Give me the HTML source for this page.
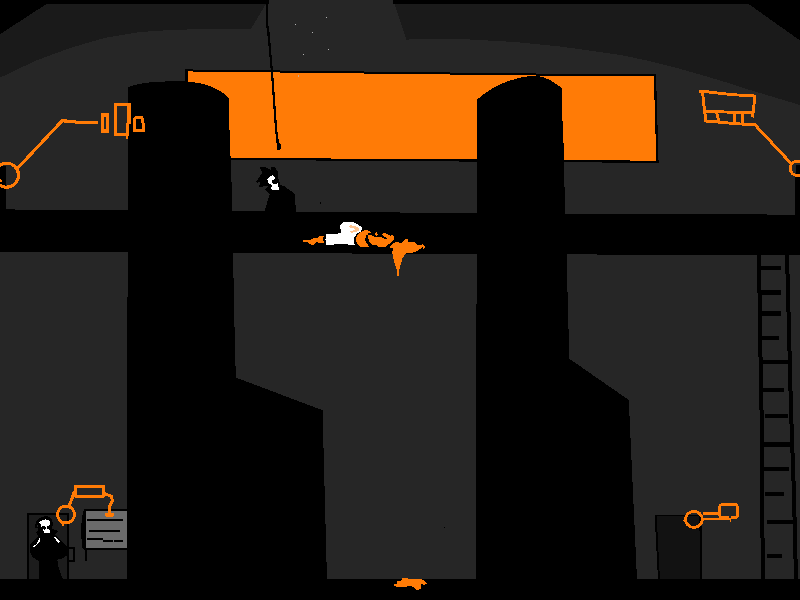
<!DOCTYPE html>
<html>
<head>
<meta charset="utf-8">
<title>Scene</title>
<style>
html,body{margin:0;padding:0;background:#000;overflow:hidden;font-family:"Liberation Sans",sans-serif;}
svg{display:block;position:absolute;left:0;top:0;}
</style>
</head>
<body>
<svg width="800" height="600" viewBox="0 0 800 600" shape-rendering="crispEdges">
<!-- BG -->
<rect x="0" y="0" width="800" height="600" fill="#262626"/>
<!-- CEILING-L -->
<path d="M0,3 L266.500,3 L251,28.700 L210,29 L175,29.750 L140,32 L105,37.800 L70,48 L35,61 L0,77.700 Z" fill="#1a1a1a"/>
<!-- CEILING-R -->
<path d="M394.200,3 L800,3 L800,105 L775,97.500 L750,90 L725,82 L700,74.500 L675,67.500 L650,61.250 L625,55.750 L600,52 L560,46.500 L515,42 L470,39.500 L430,38.900 L410,39.200 L406.700,40.800 Z" fill="#1a1a1a"/>
<!-- TOPBORDER -->
<rect x="0" y="0" width="269" height="4" fill="#000"/>
<rect x="393" y="0" width="407" height="4" fill="#000"/>
<path d="M0,4 L46.500,4 L0,34.200 Z" fill="#000"/>
<path d="M748.600,4 L800,4 L800,40.500 Z" fill="#000"/>
<!-- WINDOW -->
<path d="M185,69 L193,69 L193,69.600 L279.500,70.500 L364,71.500 L450,72.500 L536,73.500 L656,73.900 L658.600,162.900 L229,159.900 L185,159.600 Z" fill="#000"/>
<path d="M188,71 L193,71 L193,71.600 L279.500,72.500 L364,73.500 L450,74.500 L536,75.500 L653.800,75.900 L656.300,160.680 L229,157.830 L188,157.600 Z" fill="#ff7b06"/>
<!-- STARS -->
<g fill="#b0b0b0">
<rect x="295" y="24" width="1" height="1"/>
<rect x="326" y="17" width="1" height="1"/>
<rect x="312" y="32" width="1" height="1"/>
<rect x="328" y="49" width="1" height="1"/>
<rect x="303" y="54" width="1" height="1"/>
<rect x="298" y="75" width="1" height="2" fill="#c9a98a"/>
</g>
<!-- ROPE -->
<path d="M266,0 L268.300,0 L268.500,26 L269.300,30 L273,71 L277.200,130 L279,143 L281,145 L281,148 L280,150 L277.500,150 L277,149 L277,144 L276.500,143 L275,130 L270.800,71 L267,30 L266.200,26 Z" fill="#000"/>
<!-- BEAM -->
<path d="M0,209.400 L110,210.200 L255,211.300 L400,212.500 L477,213 L600,214 L800,214.600 L800,254.800 L603,254.600 L566,254 L400,253.800 L270,253 L130,252.200 L0,251.600 Z" fill="#000"/>
<!-- PILLAR-L -->
<path d="M127.900,87.750 L131.400,86 L137.500,84.250 L146.200,82.900 L155,81.800 L165,81.500 L187,81.400 L195,82.500 L201,83.500 L205,84.500 L211,86.500 L216,89 L220,91 L224,93.500 L228,97 L229.300,100 L229.500,130 L230.600,158 L232,195 L232.300,212 L233,253 L235.200,360 L236.200,377.700 L322.500,410.200 L327,580 L127,580 Z" fill="#000"/>
<!-- PILLAR-R -->
<path d="M476.900,99.900 L482.500,94.900 L490,89.900 L500,84.250 L510,80.500 L520,77.750 L525,76.750 L530,76 L538,76 L542.500,77 L550,79.900 L557.500,84.900 L561.900,88 L562.100,120 L563.400,122 L563.600,160 L564.600,190 L564.800,213 L566.500,254 L569.300,358.700 L628.800,400 L637,580 L476,580 Z" fill="#000"/>
<!-- FLOOR -->
<rect x="0" y="578.500" width="800" height="22" fill="#000"/>

<!-- CAMERA-L -->
<rect x="0" y="166" width="6" height="46" fill="#000"/>
<g fill="none" stroke="#ff7b06" stroke-width="3.100" stroke-linejoin="round">
<circle cx="6.500" cy="175.200" r="12.050"/>
<path d="M17.200,168.700 L62,120.900 L75,121.300 L76,122.500 L97.700,122.500"/>
</g>
<g fill="#ff7b06" fill-rule="evenodd">
<path d="M101,113 L108.700,113 L108.700,133 L101,133 Z M104,116.700 L105.800,116.700 L105.800,128.700 L104,128.700 Z"/>
<path d="M114,102.500 L131,102.500 L131,124 L129.400,124 L129.400,136 L128.300,136 L128.300,138.500 L126,138.500 L126,135.500 L114,135.500 Z M117,106.200 L126.700,106.200 L126.700,123 L126,123 L126,132.500 L117,132.500 Z"/>
<path d="M135,116 L143,116 L144.700,124 L144.700,132 L132.500,132 L132.500,118.500 Z M136,119.400 L141,119.400 L141.700,124 L141.700,128.700 L135.700,128.700 Z"/>
</g>
<path d="M0,179.500 L1,179 L2.300,181 L2.300,182 L0,182 Z" fill="#ff7b06"/>
<!-- CAMERA-R -->
<path d="M795.500,164.600 L800,164.600 L800,217 L794.600,217 L794.600,178 L795.500,174 Z" fill="#000"/>
<g fill="none" stroke="#ff7b06" stroke-width="2.900" stroke-linejoin="round">
<path d="M700,91 L716,92.800 L728,94.200 L740.500,95.200 L755,96 L752.500,117.500"/>
<path d="M702.500,92 L704,106 L706,122"/>
<path d="M705,111.300 L753,113"/>
<path d="M705.500,121 L723,122.500 L737,123.800 L755,124.800 L792,164.500"/>
<path d="M716.500,111.500 L719,122"/>
<path d="M734.500,112 L734.500,123.500"/>
<path d="M742.800,113 L742.200,124"/>
<circle cx="797.300" cy="168.300" r="7.200"/>
</g>
<rect x="699" y="89.800" width="4" height="3" fill="#ff7b06"/>
<!-- LADDER -->
<g fill="#000">
<path d="M757,254 L761,254 L762,330 L763.500,410 L764,495 L765,579 L761,579 L760,495 L759.500,410 L758,330 Z"/>
<path d="M785,254 L789,254 L791,330 L793,410 L796,495 L798,579 L794,579 L792,495 L789,410 L787,330 Z"/>
<rect x="761" y="266" width="20" height="4"/>
<rect x="761" y="290" width="19.500" height="4.500"/>
<rect x="761.500" y="310.500" width="19" height="5"/>
<rect x="762" y="336" width="16.500" height="4"/>
<rect x="762" y="360" width="26.500" height="4"/>
<rect x="763" y="387.500" width="20.500" height="4.500"/>
<rect x="764.500" y="414" width="23.500" height="4"/>
<rect x="763" y="442" width="28" height="4.500"/>
<rect x="764" y="467" width="24.500" height="4"/>
<rect x="765" y="492" width="18.500" height="4"/>
<rect x="767" y="520" width="25.500" height="4"/>
<rect x="767" y="554" width="15" height="4"/>
</g>
<!-- HATMAN -->
<path d="M260.100,166.900 L265.100,166.900 L268.300,168.700 L270.600,170.100 L271.600,166.900 L274.300,166.900 L277.500,171 L278.400,178.300 L279.800,182.900 L280.700,185.200 L285.300,186.600 L286.700,188.400 L293.100,192.100 L295,194.900 L295.900,212.500 L263.800,212.500 L265.600,207.700 L269.700,193.900 L266,190.300 L265.100,188.900 L267.900,187 L267.400,185.700 L263.800,186.100 L261.900,187.500 L259.200,187 L259.600,183.800 L261,181.500 L256.900,182.900 L256,181.500 L259.200,177.400 L261.500,173.800 L261.900,171 L260.100,168.700 Z" fill="#000"/>
<path d="M267,179.700 L269.300,177 L272.500,175.100 L274.300,176 L274.800,178.800 L272,180.600 L272,182.500 L273.900,184 L277.500,183.400 L278,186.100 L278.900,187.500 L278.900,189.800 L272,189.800 L271.100,187.500 L272,186.100 L270.600,184.300 L268.300,183.400 L267.900,181.100 Z" fill="#fff"/>
<!-- BODY -->
<g fill="#ff7b06">
<path d="M303,240 L310,240 L313,238.500 L317,238 L319,236.500 L324,236 L323,238.500 L324,243.500 L319,243 L317,242 L314,244.500 L311,244.800 L308,242.500 L303,242 Z"/>
<path d="M356.200,236.900 L361,231.800 L364.600,230 L367.600,230.300 L370,231.800 L370.900,232.700 L368.200,233.600 L367.300,235.100 L366.500,235.100 L365.500,237.800 L365.200,240.800 L367,243.200 L368.200,245.300 L369.400,246.800 L359.800,246.800 L357.100,244.100 L356.200,241.400 Z"/>
<path d="M367.600,235.100 L371.800,235.400 L375.400,236.900 L378.400,237.200 L380.800,236.900 L384.400,239 L386.200,239.600 L387.100,238.400 L384.700,236.900 L382.300,234.800 L383.200,233.300 L385.600,233 L388,234.500 L390.400,236 L391.300,235.100 L393.100,235.100 L394,238.100 L393.400,239.900 L389.200,243.800 L385.300,246.800 L378.400,246.800 L376,245 L372.700,244.700 L370,243.200 L368.800,240.200 L367.900,237.200 Z"/>
<path d="M376,232.100 L377,232.400 L377.800,234.800 L377.200,235.700 L376,235.400 L375.100,233.900 Z"/>
<path d="M389.100,246.900 L391.200,245.400 L394.800,242.400 L397.800,242.100 L401.400,243 L405,239.400 L408,239.100 L408.300,241.800 L414,242.100 L417.600,244.800 L420,245.100 L422.400,244.200 L424.800,246.600 L424.200,248.700 L423,248.700 L422.400,246.900 L419.400,249.600 L415.200,252 L412.200,252.600 L406.500,252.900 L403.800,256.200 L402,259.200 L401.700,262 L401,263.500 L400,267 L399,271.500 L399,276 L397,276 L397,271.500 L396,267 L394.500,263 L393.900,262 L393,256.200 L392.100,252 L393.300,249.900 L392.400,248.100 L390,248.100 Z"/>
</g>
<path d="M326,234 L329,233.500 L331,234.500 L338,233.500 L341,232.500 L341.500,230 L340,228 L340.500,224.500 L343,222 L353,222 L358,224.500 L362,227.500 L361,231.500 L357,233.500 L354.500,237 L354,243.500 L355,245 L353,245.500 L345,244 L335,244 L334,244.800 L326,244.800 L325.800,240.500 L325,239.500 L326.200,238.500 Z" fill="#fff"/>
<path d="M348,226 L351.200,225.200 L356,226.400 L359.600,228.800 L359.200,230.400 L356,232 L351.200,232.800 L350,231.600 L352.800,230.400 L355.600,229.200 L352.800,227.600 L349.600,227.600 Z" fill="#ffc490"/>
<!-- DOOR -->
<rect x="27" y="513" width="42" height="66" fill="#000"/>
<rect x="29" y="514.700" width="38" height="64.300" fill="#1c1c1c"/>
<g fill="#000">
<rect x="69" y="546.500" width="5.500" height="2"/>
<rect x="73" y="546.500" width="2" height="15.500"/>
<rect x="69" y="560" width="6" height="2"/>
</g>
<!-- DOORMAN -->
<path d="M39.300,535.700 L29.500,544.700 L29.500,551.700 L32.700,557 L38.700,561 L39.300,579 L62.700,579 L58.700,567.700 L57.300,559.700 L62.700,558.300 L66.700,555.700 L67.300,548 L66.300,546 L54.700,534.300 Z" fill="#000"/>
<path d="M36.300,521 L38.700,518.300 L42,517 L46,516 L50,517 L52,519.300 L52.700,522.700 L52.300,529.300 L56,529.700 L57.700,531 L57.300,532.700 L54.700,534.500 L56,537 L39.300,537 L37.300,534.700 L36,532.700 L38,530.300 L37.700,528.300 L35.300,527.700 L35,525.300 L36,523.700 Z" fill="#000"/>
<path d="M39,522.300 L41.700,520.700 L45.300,519.300 L48.700,520 L50,522.300 L49.700,525 L47.300,526.300 L47.300,529 L50,529.700 L50,532.700 L44.300,533 L43,530 L43.700,529.300 L44.700,530 L45.700,528.700 L45.700,526.700 L43.300,526.300 L41.300,526.700 L41,524.300 Z" fill="#fff"/>
<rect x="36.700" y="525.300" width="1.300" height="1.700" fill="#262626"/>
<path d="M33,546.700 L34,547.700 L38,544 L40,540.700 L40,538 L39,538 L38,541.300 L36,544.300 Z" fill="#fff"/>
<path d="M54,537.300 L55.300,536.700 L57.300,539.300 L60,541.700 L59,543 L56.700,541 L55,538.700 Z" fill="#fff"/>
<!-- SIGN -->
<path d="M84,509 L127,509 L127,549.500 L84.500,549.500 L82,548 L81,530 L82,517 Z" fill="#000"/>
<rect x="86" y="511" width="41" height="36.500" fill="#6b6b6b"/>
<g fill="#000">
<rect x="87" y="518.500" width="36" height="2.500"/>
<rect x="89" y="529.700" width="31" height="2.300"/>
<rect x="87" y="538" width="16" height="2"/>
<rect x="103" y="539.500" width="10" height="2"/>
<rect x="114" y="540" width="9" height="2"/>
<rect x="84.500" y="549" width="2.200" height="12"/>
</g>
<!-- ARMICON -->
<g fill="none" stroke="#ff7b06" stroke-width="2.900" stroke-linejoin="round">
<rect x="75.200" y="486.600" width="28.300" height="9.600"/>
<path d="M74.500,491 L72,498.500 L69,506"/>
<circle cx="66" cy="514.500" r="8.500"/>
<path d="M103.600,493.300 L111.500,496.400 L112.400,500.800 L109.800,506 L109.800,513"/>
</g>
<ellipse cx="109.500" cy="514.800" rx="4.600" ry="2.400" fill="#ff7b06"/>
<path d="M61,522.500 L65,523 L64,526 L62,526 Z" fill="#ff7b06"/>
<!-- BOX -->
<path d="M654.600,514.600 L701.400,514.600 L702.100,579 L658,579 Z" fill="#000"/>
<path d="M656.700,516.400 L699.300,516.400 L700.200,579 L659.900,579 Z" fill="#121212"/>
<!-- KEYICON -->
<g fill="none" stroke="#ff7b06" stroke-width="2.900" stroke-linejoin="round">
<ellipse cx="693.900" cy="519.400" rx="8.500" ry="8"/>
<rect x="719.500" y="504.300" width="18.200" height="13.500" rx="3.500" ry="3.500"/>
</g>
<g fill="#ff7b06">
<rect x="703" y="512" width="16.500" height="3.200"/>
<rect x="703.500" y="517.600" width="27.800" height="2.800"/>
<path d="M683,520.800 L685,519 L685,522.500 Z"/>
<rect x="729.500" y="519" width="1.800" height="2.500"/>
</g>
<rect x="728.800" y="515.200" width="2" height="2.400" fill="#262626"/>
<!-- SPLAT -->
<path d="M394,584 L397,583.500 L397,581.500 L401,581 L402,578.500 L406.500,578 L410,579 L415,579 L420,578.800 L423,580 L426.500,583 L426.500,584 L424,585 L422,583.500 L420.500,584.500 L421.500,587 L420.500,589 L416.500,590 L413.500,587 L410,586 L406,586.800 L396,586.800 L394,585.500 Z" fill="#ff7b06"/>
<rect x="444" y="527" width="1" height="1" fill="#000"/>
<rect x="320" y="202" width="1" height="2" fill="#000"/>
</svg>
</body>
</html>
